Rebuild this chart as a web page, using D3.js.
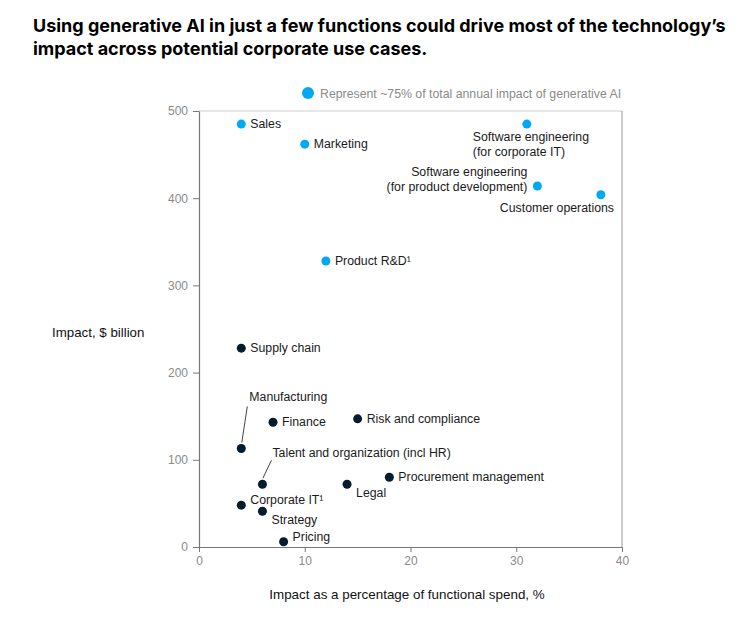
<!DOCTYPE html>
<html>
<head>
<meta charset="utf-8">
<script src="https://cdn.jsdelivr.net/npm/d3@7"></script>
<style>
  body { margin: 0; background: #fff; }
  svg { display: block; }
</style>
</head>
<body>
<svg id="chart" width="755" height="617"></svg>
<script>
// functions, spend share (%), impact ($bn), highlight = top-75% group
const names    = ["Sales", "Marketing", "Software engineering\n(for corporate IT)", "Software engineering\n(for product development)", "Customer operations", "Product R&D¹",
                  "Supply chain", "Manufacturing", "Finance", "Risk and compliance", "Talent and organization (incl HR)", "Procurement management", "Legal", "Corporate IT¹", "Strategy", "Pricing"];
const spendPct = [4, 10, 31, 32, 38, 12, 4, 4, 7, 15, 6, 18, 14, 4, 6, 8];
const impactBn = [485, 462, 485, 414, 404, 328, 228, 113, 143, 147, 72, 80, 72, 48, 41, 6];
const highlight = [1, 1, 1, 1, 1, 1, 0, 0, 0, 0, 0, 0, 0, 0, 0, 0];
// label placement relative to its dot
const labelPos = ["r", "r", "below", "left", "belowl", "r", "r", "lead", "r", "r", "lead", "r", "belowr", "ur", "belowr", "ur"];

const xTicks = [0, 10, 20, 30, 40];
const yTicks = [0, 100, 200, 300, 400, 500];

const blue = "#00a9f4", navy = "#051c2c";
const svg = d3.select("#chart");
const font = "'Liberation Sans', Arial, sans-serif";

const x = d3.scaleLinear().domain([0, 40]).range([199, 622]);
const y = d3.scaleLinear().domain([0, 500]).range([547, 111]);

// title — size fitted so line 1 spans the same width as the reference
const title = svg.append("text")
  .attr("font-family", "Inter, 'Noto Sans', sans-serif")
  .attr("font-weight", 700).attr("font-size", 19).attr("fill", "#000");
const t1 = title.append("tspan").attr("x", 33).attr("y", 32)
  .text("Using generative AI in just a few functions could drive most of the technology’s");
title.append("tspan").attr("x", 33).attr("y", 55)
  .text("impact across potential corporate use cases.");
const w1 = t1.node().getComputedTextLength();
if (w1 > 0) title.attr("font-size", 19 * 693 / w1);

// frame (top + right)
svg.append("line").attr("x1", x(0)).attr("x2", x(40)).attr("y1", y(500)).attr("y2", y(500))
  .attr("stroke", "#cfcfcf").attr("stroke-width", 1);
svg.append("line").attr("x1", x(40)).attr("x2", x(40)).attr("y1", y(500)).attr("y2", y(0))
  .attr("stroke", "#9a9a9a").attr("stroke-width", 1);

function axisStyling(g) {
  g.select(".domain").attr("stroke", "#777").attr("stroke-width", 1.2);
  g.selectAll(".tick line").attr("stroke", "#777");
  g.selectAll("text").attr("fill", "#8a8a8a").attr("font-family", font).attr("font-size", 12);
}

svg.append("g").attr("transform", `translate(0,${y(0)})`)
  .call(d3.axisBottom(x).tickValues(xTicks).tickSizeInner(5).tickSizeOuter(0).tickPadding(4))
  .call(axisStyling);
svg.append("g").attr("transform", `translate(${x(0)},0)`)
  .call(d3.axisLeft(y).tickValues(yTicks).tickSizeInner(6).tickSizeOuter(0).tickPadding(5))
  .call(axisStyling);

// axis titles
svg.append("text").attr("x", 52).attr("y", 337).attr("font-family", font).attr("font-size", 13.3)
  .attr("fill", "#111").text("Impact, $ billion");
svg.append("text").attr("x", 407).attr("y", 599).attr("text-anchor", "middle")
  .attr("font-family", font).attr("font-size", 13.4).attr("fill", "#111")
  .text("Impact as a percentage of functional spend, %");

// legend
svg.append("circle").attr("cx", 308).attr("cy", 93).attr("r", 6).attr("fill", blue);
svg.append("text").attr("x", 320).attr("y", 97.5).attr("font-family", font).attr("font-size", 12.3)
  .attr("fill", "#8a8a8a").text("Represent ~75% of total annual impact of generative AI");

const rows = names.map((n, i) => ({ name: n, sx: spendPct[i], iy: impactBn[i], hi: highlight[i], pos: labelPos[i] }));

// leader lines (Manufacturing, Talent)
rows.filter(d => d.pos === "lead").forEach(d => {
  const cx = x(d.sx), cy = y(d.iy);
  const up = d.name === "Manufacturing" ? 36 : 18;
  const dx = d.name === "Manufacturing" ? 6 : 9;
  svg.append("line").attr("x1", cx + dx).attr("y1", cy - 6 - up).attr("x2", cx + 0.5).attr("y2", cy - 6)
    .attr("stroke", "#444").attr("stroke-width", 1);
});

svg.append("g").selectAll("circle").data(rows).join("circle")
  .attr("cx", d => x(d.sx)).attr("cy", d => y(d.iy)).attr("r", 4.5)
  .attr("fill", d => d.hi ? blue : navy);

const labels = svg.append("g").attr("font-family", font).attr("font-size", 12.3).attr("fill", "#1a1a1a");
rows.forEach(d => {
  const cx = x(d.sx), cy = y(d.iy);
  const lines = d.name.split("\n");
  let tx, ty, anchor = "start";
  switch (d.pos) {
    case "r": tx = cx + 9; ty = cy + 4; break;
    case "below": tx = cx - 54; ty = cy + 17; break;
    case "belowl": tx = cx - 101; ty = cy + 17; break;
    case "left": tx = cx - 10; ty = cy - 10; anchor = "end"; break;
    case "belowr": tx = cx + 9; ty = cy + 13; break;
    case "ur": tx = cx + 9; ty = cy - 1; break;
    case "lead":
      if (d.name === "Manufacturing") { tx = cx + 8; ty = cy - 47; }
      else { tx = cx + 10; ty = cy - 27; }
      break;
  }
  const t = labels.append("text").attr("text-anchor", anchor);
  lines.forEach((ln, j) => t.append("tspan").attr("x", tx).attr("y", ty + j * 15).text(ln));
});
</script>
</body>
</html>
